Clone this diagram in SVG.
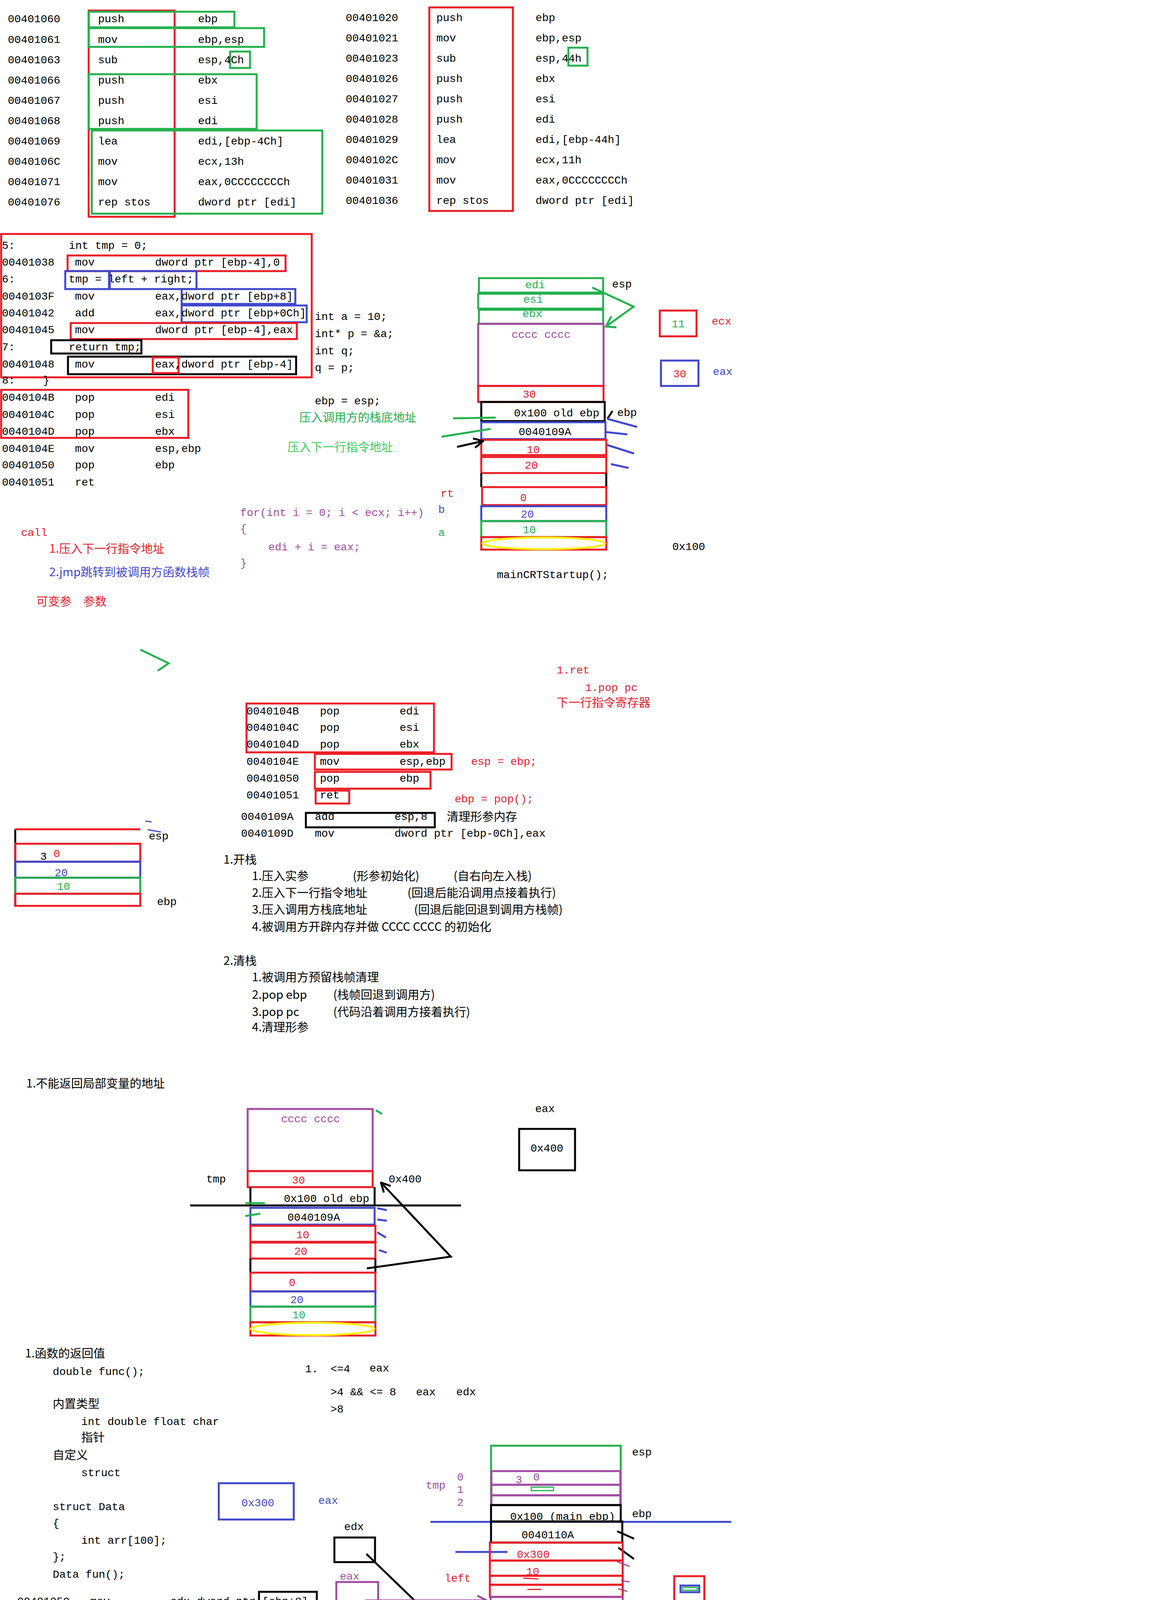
<svg xmlns="http://www.w3.org/2000/svg" width="2990" height="5158" viewBox="0 0 2990 5158">
<style>
text{font-family:"Liberation Mono","Noto Sans CJK SC",monospace;font-size:28px;fill:#000}
.big{font-size:36px}
.cn{font-family:"Noto Sans CJK SC","Liberation Sans",sans-serif;font-size:30px}
.r{fill:#e8202a}.g{fill:#22b14c}.b{fill:#3f48cc}.p{fill:#a349a4}.k{fill:#000}.lg{fill:#3ecf5c}
.m{text-anchor:middle}
rect,path,line,ellipse{fill:none;stroke-width:5}
.R{stroke:#ed1c24}.G{stroke:#22b14c}.B{stroke:#3f48cc}.P{stroke:#a349a4}.K{stroke:#000}.Y{stroke:#fff200}
.t{stroke-width:3}
</style>
<defs>
<marker id="ak" viewBox="0 0 30 30" refX="28" refY="15" markerWidth="30" markerHeight="30" markerUnits="userSpaceOnUse" orient="auto"><path d="M4,3 L28,15 L4,27" stroke="#000" stroke-width="5" fill="none"/></marker>
<marker id="ap" viewBox="0 0 30 30" refX="28" refY="15" markerWidth="30" markerHeight="30" markerUnits="userSpaceOnUse" orient="auto"><path d="M4,3 L28,15 L4,27" stroke="#a349a4" stroke-width="5" fill="none"/></marker>
<marker id="ar" viewBox="0 0 30 30" refX="28" refY="15" markerWidth="30" markerHeight="30" markerUnits="userSpaceOnUse" orient="auto"><path d="M4,3 L28,15 L4,27" stroke="#ed1c24" stroke-width="5" fill="none"/></marker>
</defs>

<g id="asm-main">
<rect class="R" x="227" y="27" width="220" height="528"/>
<rect class="G" x="227" y="30" width="373" height="40"/>
<rect class="G" x="227" y="72" width="449" height="48"/>
<rect class="G" x="589" y="132" width="51" height="42"/>
<rect class="G" x="227" y="190" width="430" height="140"/>
<rect class="G" x="235" y="334" width="590" height="213"/>
<g class="big">
<text x="20" y="57">00401060</text><text x="251" y="57">push</text><text x="507" y="57">ebp</text>
<text x="20" y="110">00401061</text><text x="251" y="110">mov</text><text x="507" y="110">ebp,esp</text>
<text x="20" y="162">00401063</text><text x="251" y="162">sub</text><text x="507" y="162">esp,4Ch</text>
<text x="20" y="214">00401066</text><text x="251" y="214">push</text><text x="507" y="214">ebx</text>
<text x="20" y="266">00401067</text><text x="251" y="266">push</text><text x="507" y="266">esi</text>
<text x="20" y="318">00401068</text><text x="251" y="318">push</text><text x="507" y="318">edi</text>
<text x="20" y="370">00401069</text><text x="251" y="370">lea</text><text x="507" y="370">edi,[ebp-4Ch]</text>
<text x="20" y="422">0040106C</text><text x="251" y="422">mov</text><text x="507" y="422">ecx,13h</text>
<text x="20" y="474">00401071</text><text x="251" y="474">mov</text><text x="507" y="474">eax,0CCCCCCCCh</text>
<text x="20" y="526">00401076</text><text x="251" y="526">rep stos</text><text x="507" y="526">dword ptr [edi]</text>
</g>
</g>

<g id="asm-test">
<rect class="R" x="1099" y="19" width="214" height="521"/>
<rect class="G" x="1455" y="122" width="49" height="46"/>
<g class="big r">
<text x="885" y="54">00401020</text><text x="1117" y="54">push</text><text x="1371" y="54">ebp</text>
<text x="885" y="106">00401021</text><text x="1117" y="106">mov</text><text x="1371" y="106">ebp,esp</text>
<text x="885" y="158">00401023</text><text x="1117" y="158">sub</text><text x="1371" y="158">esp,44h</text>
<text x="885" y="210">00401026</text><text x="1117" y="210">push</text><text x="1371" y="210">ebx</text>
<text x="885" y="262">00401027</text><text x="1117" y="262">push</text><text x="1371" y="262">esi</text>
<text x="885" y="314">00401028</text><text x="1117" y="314">push</text><text x="1371" y="314">edi</text>
<text x="885" y="366">00401029</text><text x="1117" y="366">lea</text><text x="1371" y="366">edi,[ebp-44h]</text>
<text x="885" y="418">0040102C</text><text x="1117" y="418">mov</text><text x="1371" y="418">ecx,11h</text>
<text x="885" y="470">00401031</text><text x="1117" y="470">mov</text><text x="1371" y="470">eax,0CCCCCCCCh</text>
<text x="885" y="522">00401036</text><text x="1117" y="522">rep stos</text><text x="1371" y="522">dword ptr [edi]</text>
</g>
</g>

<g id="asm-body">
<rect class="R" x="3" y="599" width="795" height="367"/>
<rect class="R" x="173" y="654" width="558" height="40"/>
<rect class="B" x="167" y="694" width="112" height="46"/>
<rect class="B" x="281" y="694" width="222" height="46"/>
<rect class="B" x="465" y="740" width="291" height="38"/>
<rect class="B" x="465" y="782" width="320" height="43"/>
<rect class="R" x="181" y="827" width="579" height="41"/>
<rect class="K" x="131" y="871" width="231" height="34"/>
<rect class="K" x="174" y="913" width="584" height="45"/>
<rect class="R" x="391" y="915" width="66" height="40"/>
<rect class="R" x="3" y="998" width="479" height="123"/>
<text x="5" y="637">5:</text><text x="176" y="637">int tmp = 0;</text>
<text x="5" y="680">00401038</text><text x="192" y="680">mov</text><text x="397" y="680">dword ptr [ebp-4],0</text>
<text x="5" y="723">6:</text><text x="176" y="723">tmp = left + right;</text>
<text x="5" y="767">0040103F</text><text x="192" y="767">mov</text><text x="397" y="767">eax,dword ptr [ebp+8]</text>
<text x="5" y="810">00401042</text><text x="192" y="810">add</text><text x="397" y="810">eax,dword ptr [ebp+0Ch]</text>
<text x="5" y="853">00401045</text><text x="192" y="853">mov</text><text x="397" y="853">dword ptr [ebp-4],eax</text>
<text x="5" y="897">7:</text><text x="176" y="897">return tmp;</text>
<text x="5" y="941">00401048</text><text x="192" y="941">mov</text><text x="397" y="941">eax,dword ptr [ebp-4]</text>
<text x="5" y="982">8:</text><text x="110" y="982">}</text>
<text x="5" y="1026">0040104B</text><text x="192" y="1026">pop</text><text x="397" y="1026">edi</text>
<text x="5" y="1070">0040104C</text><text x="192" y="1070">pop</text><text x="397" y="1070">esi</text>
<text x="5" y="1113">0040104D</text><text x="192" y="1113">pop</text><text x="397" y="1113">ebx</text>
<text x="5" y="1157">0040104E</text><text x="192" y="1157">mov</text><text x="397" y="1157">esp,ebp</text>
<text x="5" y="1199">00401050</text><text x="192" y="1199">pop</text><text x="397" y="1199">ebp</text>
<text x="5" y="1243">00401051</text><text x="192" y="1243">ret</text>
</g>

<g id="notes-1">
<text x="806" y="819">int a = 10;</text>
<text x="806" y="863">int* p = &amp;a;</text>
<text x="806" y="907">int q;</text>
<text x="806" y="950">q = p;</text>
<text x="806" y="1035">ebp = esp;</text>
<text class="cn g" x="766" y="1079">压入调用方的栈底地址</text>
<text class="cn lg" x="736" y="1155">压入下一行指令地址</text>
<text class="p" x="615" y="1321">for(int i = 0; i &lt; ecx; i++)</text>
<text class="p" x="615" y="1362">{</text>
<text class="p" x="687" y="1409">edi + i = eax;</text>
<text class="p" x="615" y="1450">}</text>
<text class="r" x="54" y="1372">call</text>
<text class="cn r" x="126" y="1415">1.压入下一行指令地址</text>
<text class="cn b" x="126" y="1475">2.jmp跳转到被调用方函数栈帧</text>
<text class="cn r" x="93" y="1550">可变参　参数</text>
</g>

<g id="stack-1">
<rect class="G" x="1226" y="712" width="318" height="37"/>
<rect class="G" x="1224" y="752" width="320" height="38"/>
<rect class="G" x="1226" y="793" width="318" height="36"/>
<rect class="P" x="1224" y="829" width="321" height="159"/>
<rect class="R" x="1224" y="988" width="321" height="41"/>
<rect class="K" x="1232" y="1029" width="316" height="49"/>
<rect class="B" x="1232" y="1081" width="318" height="43"/>
<rect class="R" x="1232" y="1126" width="320" height="39"/>
<rect class="R" x="1232" y="1170" width="320" height="41"/>
<path class="K" d="M1232,1211 V1247 M1552,1211 V1247"/>
<rect class="R" x="1234" y="1247" width="318" height="46"/>
<rect class="B" x="1232" y="1296" width="320" height="38"/>
<rect class="G" x="1232" y="1334" width="320" height="41"/>
<rect class="R" x="1232" y="1375" width="320" height="32"/>
<ellipse class="Y" cx="1392" cy="1391" rx="157" ry="15"/>
<text class="g m" x="1370" y="738">edi</text>
<text class="g m" x="1365" y="775">esi</text>
<text class="g m" x="1363" y="812">ebx</text>
<text class="p m" x="1385" y="865">cccc cccc</text>
<text class="r m" x="1355" y="1018">30</text>
<text class="m" x="1425" y="1066">0x100 old ebp</text>
<text class="m" x="1395" y="1114">0040109A</text>
<text class="r m" x="1365" y="1160">10</text>
<text class="r m" x="1360" y="1200">20</text>
<text class="r m" x="1340" y="1283">0</text>
<text class="b m" x="1350" y="1325">20</text>
<text class="g m" x="1355" y="1365">10</text>
<text x="1567" y="736">esp</text>
<text x="1580" y="1065">ebp</text>
<text class="r" x="1128" y="1272">rt</text>
<text class="b" x="1122" y="1313">b</text>
<text class="g" x="1122" y="1372">a</text>
<text x="1721" y="1408">0x100</text>
<text x="1272" y="1480">mainCRTStartup();</text>
<rect class="R" x="1689" y="795" width="94" height="66"/>
<text class="g m" x="1736" y="838">11</text>
<text class="r" x="1822" y="831">ecx</text>
<rect class="B" x="1692" y="923" width="96" height="65"/>
<text class="r m" x="1740" y="966">30</text>
<text class="b" x="1825" y="960">eax</text>
</g>

<g id="connectors">
<path class="G" d="M1516,736 L1622,785 L1551,836 M1565,810 L1551,836 L1578,838"/>
<line class="G" x1="1160" y1="1071" x2="1269" y2="1069"/>
<line class="G" x1="1130" y1="1118" x2="1256" y2="1098"/>
<line class="K" x1="1170" y1="1144" x2="1237" y2="1129" marker-end="url(#ak)"/>
<path class="K" d="M1555,1072 L1568,1052"/>
<path class="B" d="M1554,1072 L1631,1093 M1551,1106 L1606,1112 M1554,1139 L1623,1161 M1564,1188 L1609,1198"/>
<path class="G" d="M359,1663 L432,1698 L404,1717"/>
<path class="K" d="M939,3247 L1154,3217 L975,3027" marker-end="url(#ak)"/>
<line class="K" x1="487" y1="3086" x2="1180" y2="3086"/>
<line class="K" x1="938" y1="3978" x2="1246" y2="4276" marker-end="url(#ak)"/>
<line class="P" x1="935" y1="4097" x2="1246" y2="4097" marker-end="url(#ap)"/>
<line class="R" x1="1170" y1="4270" x2="1246" y2="4284" marker-end="url(#ar)"/>
<line class="R" x1="1216" y1="4298" x2="1246" y2="4294"/>
<line class="B" x1="1102" y1="3896" x2="1872" y2="3896"/>
<line class="B" x1="1166" y1="3973" x2="1299" y2="3973"/>
<path class="K" d="M1580,3920 L1623,3939 M1583,3962 L1623,3991"/>
<path class="P t" d="M1580,3998 L1612,4010 M1590,4046 L1612,4050 M1582,4067 L1606,4074 M1583,4106 L1618,4114"/>
</g>

<g id="ret-block">
<rect class="R" x="631" y="1801" width="480" height="125"/>
<rect class="R" x="806" y="1930" width="350" height="40"/>
<rect class="R" x="806" y="1976" width="296" height="43"/>
<rect class="R" x="808" y="2024" width="86" height="33"/>
<rect class="K" x="783" y="2081" width="330" height="37"/>
<text x="631" y="1829">0040104B</text><text x="819" y="1829">pop</text><text x="1023" y="1829">edi</text>
<text x="631" y="1871">0040104C</text><text x="819" y="1871">pop</text><text x="1023" y="1871">esi</text>
<text x="631" y="1914">0040104D</text><text x="819" y="1914">pop</text><text x="1023" y="1914">ebx</text>
<text x="631" y="1958">0040104E</text><text x="819" y="1958">mov</text><text x="1023" y="1958">esp,ebp</text>
<text x="631" y="2001">00401050</text><text x="819" y="2001">pop</text><text x="1023" y="2001">ebp</text>
<text x="631" y="2044">00401051</text><text x="819" y="2044">ret</text>
<text class="r" x="1206" y="1958">esp = ebp;</text>
<text class="r" x="1164" y="2054">ebp = pop();</text>
<text class="r" x="1425" y="1724">1.ret</text>
<text class="r" x="1498" y="1769">1.pop  pc</text>
<text class="cn r" x="1425" y="1809">下一行指令寄存器</text>
<text x="617" y="2099">0040109A</text><text x="806" y="2099">add</text><text x="1010" y="2099">esp,8</text>
<text class="cn" x="1144" y="2101">清理形参内存</text>
<text x="617" y="2142">0040109D</text><text x="806" y="2142">mov</text><text x="1010" y="2142">dword ptr [ebp-0Ch],eax</text>
</g>

<g id="stack-small">
<path class="K" d="M39,2123 V2319"/>
<line class="R" x1="39" y1="2123" x2="359" y2="2123"/>
<rect class="R" x="39" y="2160" width="320" height="46"/>
<rect class="B" x="39" y="2206" width="320" height="41"/>
<rect class="G" x="39" y="2247" width="320" height="41"/>
<rect class="R" x="39" y="2288" width="320" height="31"/>
<text x="103" y="2201">3</text><text class="r" x="137" y="2194">0</text>
<text class="b" x="140" y="2243">20</text>
<text class="g" x="146" y="2278">10</text>
<text x="381" y="2149">esp</text>
<text x="402" y="2317">ebp</text>
<path class="B t" d="M372,2102 L388,2104 M378,2124 L412,2130"/>
</g>

<g id="summary">
<text class="cn" x="572" y="2211">1.开栈</text>
<text class="cn" x="645" y="2253">1.压入实参</text><text class="cn" x="903" y="2253">(形参初始化)</text><text class="cn" x="1161" y="2253">(自右向左入栈)</text>
<text class="cn" x="645" y="2296">2.压入下一行指令地址</text><text class="cn" x="1043" y="2296">(回退后能沿调用点接着执行)</text>
<text class="cn" x="645" y="2339">3.压入调用方栈底地址</text><text class="cn" x="1060" y="2339">(回退后能回退到调用方栈帧)</text>
<text class="cn" x="645" y="2383">4.被调用方开辟内存并做 CCCC CCCC 的初始化</text>
<text class="cn" x="572" y="2470">2.清栈</text>
<text class="cn" x="645" y="2512">1.被调用方预留栈帧清理</text>
<text class="cn" x="645" y="2557">2.pop ebp</text><text class="cn" x="853" y="2557">(栈帧回退到调用方)</text>
<text class="cn" x="645" y="2601">3.pop pc</text><text class="cn" x="853" y="2601">(代码沿着调用方接着执行)</text>
<text class="cn" x="645" y="2640">4.清理形参</text>
</g>

<g id="stack-2">
<text class="cn" x="67" y="2784">1.不能返回局部变量的地址</text>
<rect class="P" x="634" y="2839" width="320" height="159"/>
<rect class="R" x="634" y="2998" width="320" height="41"/>
<path class="K" d="M641,3039 V3087 M959,3039 V3087"/>
<rect class="B" x="641" y="3092" width="318" height="43"/>
<rect class="R" x="641" y="3138" width="320" height="41"/>
<rect class="R" x="641" y="3181" width="320" height="41"/>
<path class="K" d="M641,3222 V3258 M961,3222 V3258"/>
<rect class="R" x="641" y="3258" width="320" height="48"/>
<rect class="B" x="641" y="3306" width="320" height="39"/>
<rect class="G" x="641" y="3345" width="320" height="40"/>
<rect class="R" x="641" y="3385" width="320" height="34"/>
<ellipse class="Y" cx="800" cy="3402" rx="158" ry="16"/>
<text class="p m" x="795" y="2873">cccc cccc</text>
<text class="r m" x="764" y="3030">30</text>
<text class="m" x="836" y="3077">0x100 old ebp</text>
<text class="m" x="803" y="3125">0040109A</text>
<text class="r m" x="775" y="3170">10</text>
<text class="r m" x="770" y="3212">20</text>
<text class="r m" x="748" y="3292">0</text>
<text class="b m" x="760" y="3336">20</text>
<text class="g m" x="765" y="3375">10</text>
<text x="528" y="3027">tmp</text>
<text x="995" y="3027">0x400</text>
<text x="1370" y="2847">eax</text>
<rect class="K" x="1329" y="2890" width="143" height="106"/>
<text class="m" x="1400" y="2948">0x400</text>
<path class="G" d="M962,2842 L978,2852 M628,3080 L678,3080 M628,3113 L666,3107"/>
<path class="B" d="M966,3093 L990,3098 M966,3122 L990,3125 M966,3155 L988,3168 M970,3200 L990,3207"/>
</g>

<g id="retval">
<text class="cn" x="64" y="3475">1.函数的返回值</text>
<text x="135" y="3520">double func();</text>
<text class="cn" x="135" y="3604">内置类型</text>
<text x="208" y="3648">int  double  float  char</text>
<text class="cn" x="208" y="3690">指针</text>
<text class="cn" x="135" y="3735">自定义</text>
<text x="208" y="3779">struct</text>
<text x="135" y="3866">struct Data</text>
<text x="135" y="3908">{</text>
<text x="208" y="3952">int arr[100];</text>
<text x="135" y="3994">};</text>
<text x="135" y="4039">Data fun();</text>
<rect class="B" x="560" y="3797" width="192" height="93"/>
<text class="b m" x="660" y="3856">0x300</text>
<text class="b" x="815" y="3850">eax</text>
<text x="781" y="3513">1.</text><text x="846" y="3513">&lt;=4</text><text x="946" y="3511">eax</text>
<text x="846" y="3572">&gt;4 &amp;&amp; &lt;= 8</text><text x="1065" y="3572">eax</text><text x="1168" y="3572">edx</text>
<text x="846" y="3616">&gt;8</text>
<text x="881" y="3917">edx</text>
<rect class="K" x="856" y="3936" width="104" height="63"/>
<text class="p" x="870" y="4044">eax</text>
<rect class="P" x="861" y="4050" width="107" height="61"/>
</g>

<g id="asm-ret">
<rect class="K" x="663" y="4075" width="148" height="46"/>
<rect class="R" x="212" y="4125" width="619" height="43"/>
<line class="R t" x1="431" y1="4204" x2="838" y2="4204"/>
<rect class="G" x="218" y="4214" width="593" height="77"/>
<rect class="B" x="606" y="4249" width="106" height="42"/>
<rect class="G" x="734" y="4255" width="76" height="34"/>
<rect class="B" x="210" y="4303" width="617" height="73"/>
<line class="B" x1="511" y1="4333" x2="778" y2="4333"/>
<rect class="Y" x="734" y="4339" width="72" height="35"/>
<rect class="B" x="681" y="4383" width="132" height="45"/>
<text x="44" y="4108">00401050</text><text x="231" y="4108">mov</text><text x="436" y="4108">edx,dword ptr [ebp+8]</text>
<text x="44" y="4151">00401053</text><text x="231" y="4151">mov</text><text x="436" y="4151">eax,dword ptr [ebp-0Ch]</text>
<text x="44" y="4195">00401056</text><text x="231" y="4195">mov</text><text x="436" y="4195">dword ptr [edx],eax</text>
<text x="44" y="4238">00401058</text><text x="231" y="4238">mov</text><text x="436" y="4238">ecx,dword ptr [ebp-8]</text>
<text x="44" y="4281">0040105B</text><text x="231" y="4281">mov</text><text x="436" y="4281">dword ptr [edx+4],ecx</text>
<text x="44" y="4324">0040105E</text><text x="231" y="4324">mov</text><text x="436" y="4324">eax,dword ptr [ebp-4]</text>
<text x="44" y="4368">00401061</text><text x="231" y="4368">mov</text><text x="436" y="4368">dword ptr [edx+8],eax</text>
<text x="44" y="4411">00401064</text><text x="231" y="4411">mov</text><text x="436" y="4411">eax,dword ptr [ebp+8]</text>
</g>

<g id="stack-3">
<rect class="G" x="1257" y="3701" width="332" height="152"/>
<rect class="P" x="1258" y="3766" width="330" height="35"/>
<rect class="P" x="1258" y="3801" width="330" height="27"/>
<rect class="P" x="1258" y="3828" width="330" height="25"/>
<rect class="G t" x="1360" y="3807" width="57" height="9"/>
<rect x="1352" y="3836" width="61" height="8" fill="#3f48cc" stroke="none"/>
<text class="p" x="1320" y="3797" font-size="24">3</text><text class="p" x="1365" y="3790" font-size="20">0</text>
<text class="p" x="1090" y="3811">tmp</text>
<text class="p" x="1170" y="3790" font-size="18">0</text><text class="p" x="1170" y="3822" font-size="18">1</text><text class="p" x="1170" y="3855" font-size="18">2</text>
<rect class="K" x="1257" y="3853" width="332" height="42"/>
<text x="1306" y="3891">0x100 (main ebp)</text>
<text x="1618" y="3884">ebp</text>
<text x="1618" y="3726">esp</text>
<rect class="K" x="1257" y="3895" width="336" height="54"/>
<text x="1335" y="3938">0040110A</text>
<rect class="R" x="1254" y="3949" width="340" height="46"/>
<rect class="R" x="1254" y="3995" width="340" height="39"/>
<rect class="R" x="1254" y="4034" width="340" height="23"/>
<rect class="R" x="1254" y="4057" width="340" height="31"/>
<text class="r" x="1323" y="3988">0x300</text>
<text class="r" x="1347" y="4032">10</text>
<path class="R t" d="M1340,4040 L1378,4042 M1350,4069 L1386,4069"/>
<rect class="P" x="1256" y="4088" width="338" height="30"/>
<rect class="P" x="1258" y="4118" width="336" height="29"/>
<rect class="P" x="1256" y="4147" width="338" height="24"/>
<text class="p" x="1360" y="4116">20</text>
<path class="P t" d="M1352,4128 L1396,4128 M1342,4158 L1426,4155"/>
<text class="r" x="1138" y="4049" font-size="40">left</text>
<text class="p" x="1108" y="4157" font-size="40">right</text>
<rect class="K" x="1254" y="4171" width="343" height="451"/>
<rect class="R" x="1247" y="4293" width="377" height="79"/>
<rect class="G" x="1254" y="4297" width="343" height="25"/>
<rect class="B" x="1254" y="4322" width="343" height="23"/>
<rect class="Y" x="1254" y="4345" width="343" height="23"/>
<rect class="G t" x="1372" y="4315" width="50" height="9"/>
<rect class="B t" x="1367" y="4353" width="60" height="8"/>
<text class="g" x="1379" y="4322">30</text>
<text class="r" x="967" y="4273">main ebp -3c</text>
<text class="r" x="1023" y="4306">0x300</text>
<line class="K t" x1="1397" y1="4392" x2="1416" y2="4392"/>
<rect class="B" x="1254" y="4407" width="340" height="23"/>
<rect class="B" x="1256" y="4430" width="336" height="20"/>
<rect class="B" x="1256" y="4450" width="336" height="24"/>
<text class="b" x="1379" y="4430">0</text>
<rect class="G" x="1256" y="4474" width="338" height="23"/>
<rect class="G" x="1258" y="4497" width="334" height="20"/>
<rect class="G" x="1258" y="4517" width="334" height="20"/>
<text class="g" x="1372" y="4497" font-size="22">20</text>
<rect class="R" x="1258" y="4537" width="334" height="22"/>
<rect class="R" x="1258" y="4559" width="334" height="22"/>
<rect class="R" x="1258" y="4581" width="334" height="22"/>
<text class="r" x="1370" y="4557">10</text>
<path class="P t" d="M1240,4510 L1276,4510 M1240,4525 L1272,4530"/>
<text class="b" x="1126" y="4434">rt</text>
<text class="r" x="1175" y="4422" font-size="18">0</text><text class="r" x="1175" y="4450" font-size="18">1</text><text class="r" x="1175" y="4478" font-size="18">2</text>
<text class="g" x="1130" y="4514" font-size="34">b</text>
<text class="r" x="1208" y="4487" font-size="18">0</text><text class="r" x="1208" y="4517" font-size="18">1</text><text class="r" x="1208" y="4545" font-size="18">2</text>
<text class="r" x="1124" y="4581">a</text>
<text class="r" x="1183" y="4557" font-size="18">0</text><text class="r" x="1183" y="4583" font-size="18">1</text><text class="r" x="1183" y="4612" font-size="18">2</text>
<rect class="R" x="1726" y="4035" width="77" height="68"/>
<rect class="B" x="1742" y="4059" width="48" height="17"/>
<rect class="G t" x="1747" y="4064" width="38" height="7"/>
</g>

<g id="conventions">
<text class="cn r" x="283" y="4651">&gt;8　临时量　　调用方的栈帧</text>
<text class="cn r" x="127" y="4731">返回值</text>
<text class="r" x="199" y="4774">1. &lt;= 4</text><text class="r" x="352" y="4774">eax</text>
<text class="r" x="199" y="4817">2. &gt;4 &amp;&amp; &lt;= 8</text><text class="r" x="473" y="4817">eax</text><text class="r" x="558" y="4817">edx</text>
<text class="r" x="199" y="4860">3. &gt;8</text><text class="cn r" x="350" y="4860">临时量</text>
<text class="cn r" x="83" y="4946">4.调用约定</text>
<text class="r" x="155" y="4989">_cdecl</text><text class="cn r" x="371" y="4989">C标准调用约定</text>
<text class="r" x="150" y="5032">_stdcall</text><text class="cn r" x="371" y="5032">windows标准调用约定</text>
<text class="r" x="155" y="5075">_fastcall</text><text class="cn r" x="371" y="5075">快速调用约定</text>
<text class="r" x="155" y="5117">_thiscall</text><text class="cn r" x="371" y="5117">类成员方法的调用约定</text>
</g>
</svg>
